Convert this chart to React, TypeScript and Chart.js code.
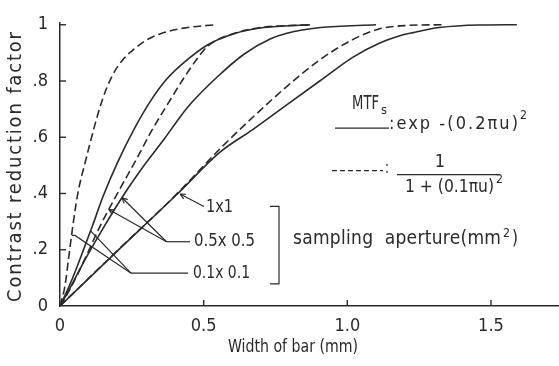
import { useEffect, useRef } from "react";
import { Chart, registerables } from "chart.js";

Chart.register(...registerables);

// Axis extents and tick labels
const X_MAX = 1.7367;
const Y_MAX = 1.0069;
const X_TICKS = [0, 0.5, 1.0, 1.5];
const X_TICK_LABELS = ["0", "0.5", "1.0", "1.5"];
const Y_TICKS = [0, 0.2, 0.4, 0.6, 0.8, 1.0];
const Y_TICK_LABELS = ["0", ".2", ".4", ".6", ".8", "1"];

// Contrast reduction factor vs. bar width (mm)
// 0.1 x 0.1 mm² aperture
const W_A01_LOR = [0, 0.017, 0.03, 0.044, 0.062, 0.09, 0.119, 0.148, 0.18, 0.218, 0.26, 0.3, 0.35, 0.43, 0.54];
const C_A01_LOR = [0, 0.07, 0.17, 0.28, 0.4, 0.52, 0.635, 0.735, 0.815, 0.875, 0.915, 0.945, 0.968, 0.988, 1.0];
const W_A01_GAU = [0, 0.04, 0.08, 0.113, 0.15, 0.2, 0.258, 0.316, 0.37, 0.432, 0.513, 0.605, 0.709, 0.87];
const C_A01_GAU = [0, 0.09, 0.195, 0.285, 0.39, 0.51, 0.629, 0.73, 0.805, 0.866, 0.928, 0.968, 0.99, 1.0];
// 0.5 x 0.5 mm² aperture
const W_A05_LOR = [0, 0.035, 0.09, 0.14, 0.205, 0.265, 0.32, 0.385, 0.432, 0.478, 0.515, 0.6, 0.7, 0.87];
const C_A05_LOR = [0, 0.06, 0.175, 0.285, 0.41, 0.52, 0.625, 0.735, 0.812, 0.88, 0.925, 0.967, 0.99, 1.0];
const W_A05_GAU = [0, 0.03, 0.09, 0.155, 0.225, 0.3, 0.36, 0.42, 0.46, 0.548, 0.64, 0.733, 0.79, 0.906, 1.1];
const C_A05_GAU = [0, 0.055, 0.17, 0.285, 0.4, 0.51, 0.59, 0.675, 0.725, 0.815, 0.895, 0.95, 0.97, 0.99, 1.0];
// 1 x 1 mm² aperture
const W_A1_LOR = [0, 0.2, 0.41, 0.557, 0.672, 0.789, 0.904, 1.02, 1.11, 1.2, 1.33];
const C_A1_LOR = [0, 0.197, 0.402, 0.559, 0.672, 0.78, 0.875, 0.948, 0.985, 0.997, 1.0];
const W_A1_GAU = [0, 0.2, 0.41, 0.557, 0.672, 0.789, 0.904, 1.02, 1.113, 1.18, 1.229, 1.32, 1.46, 1.59];
const C_A1_GAU = [0, 0.196, 0.4, 0.547, 0.628, 0.715, 0.8, 0.885, 0.935, 0.96, 0.972, 0.99, 0.999, 1.0];

const INK = "#2a2a2a";
const FAMILY = '"Liberation Sans Narrow", "DejaVu Sans Condensed", "DejaVu Sans", sans-serif';
const DASH = [8, 4];

const pts = (w: number[], c: number[]) => w.map((x, i) => ({ x, y: c[i] }));

function fitText(ctx: CanvasRenderingContext2D, text: string, x: number, y: number, width: number) {
  ctx.save();
  ctx.textAlign = "left";
  ctx.textBaseline = "middle";
  const w = ctx.measureText(text).width;
  if (w >= width) {
    ctx.fillText(text, x, y, width);
  } else {
    const n = Array.from(text).length;
    (ctx as any).letterSpacing = `${(width - w) / Math.max(n - 1, 1)}px`;
    ctx.fillText(text, x, y);
  }
  ctx.restore();
}

const annotate = {
  id: "annotate",
  afterDraw(chart: any) {
    const { ctx } = chart;
    const sx = chart.scales.x;
    const sy = chart.scales.y;
    const X = (v: number) => sx.getPixelForValue(v);
    const Y = (v: number) => sy.getPixelForValue(v);
    const font = (size: number) => `${size}px ${FAMILY}`;

    ctx.save();
    ctx.strokeStyle = INK;
    ctx.fillStyle = INK;
    ctx.lineWidth = 1.3;

    const poly = (p: number[][]) => {
      ctx.beginPath();
      p.forEach(([a, b], i) => (i ? ctx.lineTo(X(a), Y(b)) : ctx.moveTo(X(a), Y(b))));
      ctx.stroke();
    };
    const arrow = (from: number[], to: number[]) => {
      poly([from, to]);
      const x1 = X(to[0]);
      const y1 = Y(to[1]);
      const ang = Math.atan2(y1 - Y(from[1]), x1 - X(from[0]));
      ctx.beginPath();
      for (const d of [-0.45, 0.45]) {
        ctx.moveTo(x1, y1);
        ctx.lineTo(x1 - 6 * Math.cos(ang + d), y1 - 6 * Math.sin(ang + d));
      }
      ctx.stroke();
    };

    // inward tick marks
    ctx.lineWidth = 1.4;
    for (const v of Y_TICKS) {
      if (v === 0) continue;
      ctx.beginPath();
      ctx.moveTo(X(0), Y(v));
      ctx.lineTo(X(0) + 6, Y(v));
      ctx.stroke();
    }
    for (const v of X_TICKS) {
      if (v === 0) continue;
      ctx.beginPath();
      ctx.moveTo(X(v), Y(0));
      ctx.lineTo(X(v), Y(0) - 6);
      ctx.stroke();
    }

    // aperture call-outs
    ctx.lineWidth = 1.2;
    arrow([0.501, 0.354], [0.418, 0.398]);
    ctx.font = font(17);
    fitText(ctx, "1x1", X(0.508), Y(0.3505), 27);

    poly([[0.4524, 0.2285], [0.3707, 0.2285]]);
    arrow([0.3707, 0.2285], [0.17, 0.343]);
    arrow([0.3707, 0.2285], [0.216, 0.385]);
    fitText(ctx, "0.5x 0.5", X(0.4664), Y(0.2302), 61);

    poly([[0.4455, 0.1168], [0.2471, 0.1168], [0.0522, 0.2509], [0.041, 0.2509]]);
    poly([[0.2471, 0.1168], [0.1064, 0.267]]);
    fitText(ctx, "0.1x 0.1", X(0.4629), Y(0.1168), 57);

    // bracket
    poly([[0.7309, 0.354], [0.7622, 0.354], [0.7622, 0.079], [0.7309, 0.079]]);
    ctx.font = font(19);
    fitText(ctx, "sampling  aperture(mm", X(0.8109), Y(0.237), 208);
    ctx.font = font(13);
    fitText(ctx, "2", X(0.8109) + 210, Y(0.237) - 6, 7);
    ctx.font = font(19);
    fitText(ctx, ")", X(0.8109) + 219, Y(0.237), 6);

    // MTF key
    ctx.font = font(19);
    fitText(ctx, "MTF", X(1.0163), Y(0.7182), 27);
    ctx.font = font(13);
    fitText(ctx, "s", X(1.0163) + 29, Y(0.7182) + 7, 6);

    poly([[0.957, 0.6323], [1.145, 0.6323]]);
    ctx.font = font(18);
    fitText(ctx, ":exp -(0.2\u03c0u)", X(1.145), Y(0.646), 129);
    ctx.font = font(13);
    fitText(ctx, "2", X(1.145) + 131, Y(0.646) - 9, 7);

    ctx.setLineDash([5, 3]);
    poly([[0.9466, 0.4811], [1.1242, 0.4811]]);
    ctx.setLineDash([]);
    ctx.font = font(18);
    fitText(ctx, ":", X(1.1242) + 2, Y(0.488), 4);
    ctx.save();
    ctx.textAlign = "center";
    ctx.textBaseline = "middle";
    ctx.fillText("1", X(1.3225), Y(0.512));
    ctx.restore();
    poly([[1.1729, 0.4674], [1.5313, 0.4674]]);
    fitText(ctx, "1 + (0.1\u03c0u)", X(1.2007), Y(0.4227), 89);
    ctx.font = font(13);
    fitText(ctx, "2", X(1.2007) + 91, Y(0.4227) - 7, 7);

    // axis titles
    ctx.font = font(18);
    fitText(ctx, "Width of bar (mm)", 228, 347, 130);
    ctx.save();
    ctx.translate(16, 167);
    ctx.rotate(-Math.PI / 2);
    ctx.font = font(20);
    fitText(ctx, "Contrast reduction factor", -135, 0, 270);
    ctx.restore();

    ctx.restore();
  },
};

export default function App() {
  const ref = useRef<HTMLCanvasElement | null>(null);

  useEffect(() => {
    if (!ref.current) return;
    const line = (label: string, w: number[], c: number[], dashed: boolean) => ({
      label,
      data: pts(w, c),
      borderColor: INK,
      borderWidth: 1.6,
      borderDash: dashed ? DASH : [],
      pointRadius: 0,
      fill: false,
      cubicInterpolationMode: "monotone" as const,
    });
    const chart = new Chart(ref.current, {
      type: "line",
      data: {
        datasets: [
          line("0.1x0.1, exp", W_A01_GAU, C_A01_GAU, false),
          line("0.5x0.5, exp", W_A05_GAU, C_A05_GAU, false),
          line("1x1, exp", W_A1_GAU, C_A1_GAU, false),
          line("0.1x0.1, 1/(1+…)", W_A01_LOR, C_A01_LOR, true),
          line("0.5x0.5, 1/(1+…)", W_A05_LOR, C_A05_LOR, true),
          line("1x1, 1/(1+…)", W_A1_LOR, C_A1_LOR, true),
        ],
      },
      options: {
        animation: false,
        responsive: false,
        devicePixelRatio: 1,
        layout: { padding: { top: 13, right: 0, left: 0, bottom: 0 } },
        plugins: { legend: { display: false }, tooltip: { enabled: false } },
        scales: {
          x: {
            type: "linear",
            min: 0,
            max: X_MAX,
            afterFit: (s: any) => {
              s.height = 60;
            },
            afterBuildTicks: (s: any) => {
              s.ticks = X_TICKS.map((value) => ({ value }));
            },
            ticks: {
              callback: (_v: any, i: number) => X_TICK_LABELS[i],
              font: { family: FAMILY, size: 18 },
              color: INK,
              padding: 10,
              maxRotation: 0,
              autoSkip: false,
            },
            grid: { display: false, drawTicks: false },
            border: { display: true, color: INK, width: 1.5 },
          },
          y: {
            type: "linear",
            min: 0,
            max: Y_MAX,
            afterFit: (s: any) => {
              s.width = 60;
            },
            afterBuildTicks: (s: any) => {
              s.ticks = Y_TICKS.map((value) => ({ value }));
            },
            ticks: {
              callback: (_v: any, i: number) => Y_TICK_LABELS[i],
              font: { family: FAMILY, size: 18 },
              color: INK,
              padding: 12,
              autoSkip: false,
            },
            grid: { display: false, drawTicks: false },
            border: { display: true, color: INK, width: 1.5 },
          },
        },
      },
      plugins: [annotate],
    });
    return () => chart.destroy();
  }, []);

  return (
    <div style={{ position: "fixed", left: 0, top: 0, width: 559, height: 366, background: "#fff" }}>
      <canvas ref={ref} width={559} height={366} style={{ display: "block" }} />
    </div>
  );
}
